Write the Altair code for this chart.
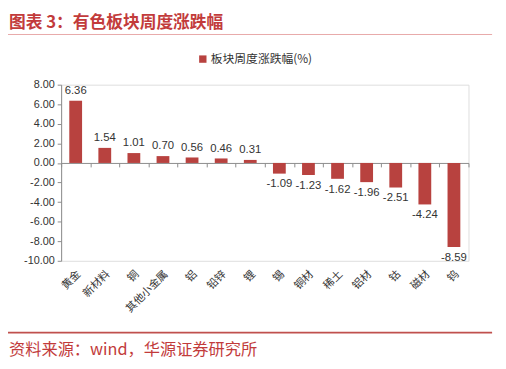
import altair as alt
import pandas as pd

categories = ["黄金", "新材料", "铜", "其他小金属", "铝", "铅锌", "锂", "锡", "铜材", "稀土", "铝材", "钴", "磁材", "钨"]
values = [6.36, 1.54, 1.01, 0.70, 0.56, 0.46, 0.31, -1.09, -1.23, -1.62, -1.96, -2.51, -4.24, -8.59]
y_ticks = [8, 6, 4, 2, 0, -2, -4, -6, -8, -10]
series_name = "板块周度涨跌幅(%)"
title_text = "图表 3：有色板块周度涨跌幅"
source_text = "资料来源：wind，华源证券研究所"

df = pd.DataFrame({"cat": categories, "val": values, "series": [series_name] * len(categories)})

W, H = 414, 179
YMIN, YMAX = -10, 8
zero_from_bottom = H * (0 - YMIN) / (YMAX - YMIN)

LATIN = "Liberation Sans, Arial, Noto Sans CJK SC"
CJK = "Noto Sans CJK SC"
BAR = "#b8423f"
RED = "#c23b3b"
FMT = "replace(format({v}, '.2f'), '\u2212', '-')"

x_enc = alt.X(
    "cat:N", sort=categories, title=None,
    scale=alt.Scale(paddingInner=0, paddingOuter=0),
    axis=alt.Axis(
        orient="bottom", offset=-zero_from_bottom, tickBand="extent",
        domainColor="#8c8c8c", tickColor="#8c8c8c", tickSize=4,
        labelAngle=-45, labelAlign="right", labelBaseline="middle",
        labelPadding=107, labelOffset=3, labelFont=CJK, labelFontSize=11, labelColor="#333333",
        labelOverlap=False, labelBound=False,
    ),
)
y_enc = alt.Y(
    "val:Q", title=None,
    scale=alt.Scale(domain=[YMIN, YMAX], nice=False, zero=False),
    axis=alt.Axis(
        values=y_ticks, grid=False, labelOverlap=False, labelBound=False,
        labelExpr=FMT.format(v="datum.value"),
        domainColor="#8c8c8c", tickColor="#8c8c8c", tickSize=4,
        labelFont=LATIN, labelFontSize=11, labelColor="#333333", labelPadding=3,
    ),
)

base = alt.Chart(df).transform_calculate(lbl=FMT.format(v="datum.val"))

bars = base.mark_bar(size=13).encode(
    x=x_enc, y=y_enc,
    color=alt.Color(
        "series:N", title=None,
        scale=alt.Scale(range=[BAR]),
        legend=alt.Legend(
            orient="none", legendX=138, legendY=-32, symbolType="square",
            symbolSize=56, symbolStrokeWidth=0, labelFont=CJK, labelFontSize=12,
            labelColor="#333333", padding=0, labelOffset=2, symbolOffset=0,
        ),
    ),
)

pos_labels = base.transform_filter("datum.val >= 0").mark_text(
    baseline="bottom", dy=-5, font=LATIN, fontSize=11.5, color="#333333"
).encode(x=x_enc, y=y_enc, text="lbl:N")

neg_labels = base.transform_filter("datum.val < 0").mark_text(
    baseline="top", dy=5, font=LATIN, fontSize=11.5, color="#333333"
).encode(x=x_enc, y=y_enc, text="lbl:N")

one = alt.Data(values=[{"a": 1}])

title = alt.Chart(one).mark_text(
    align="left", baseline="middle", font=CJK, fontSize=17, fontWeight="bold", color=RED
).encode(x=alt.value(-53), y=alt.value(20 - 83), text=alt.value(title_text))

top_line = alt.Chart(one).mark_rule(color="#e8a8a8", strokeWidth=1).encode(
    x=alt.value(-54), x2=alt.value(438), y=alt.value(32 - 83)
)
bottom_line = alt.Chart(one).mark_rule(color="#c0504d", strokeWidth=2).encode(
    x=alt.value(-54), x2=alt.value(438), y=alt.value(335 - 83)
)
source = alt.Chart(one).mark_text(
    align="left", baseline="middle", font=CJK, fontSize=16.5, color=RED
).encode(x=alt.value(-53), y=alt.value(353 - 83), text=alt.value(source_text))

chart = alt.layer(bars, pos_labels, neg_labels, title, top_line, bottom_line, source).properties(
    width=W, height=H,
    autosize=alt.AutoSizeParams(type="none"),
    padding={"left": 54, "top": 75, "right": 30, "bottom": 105},
).configure_view(stroke=None).configure(background="white")

chart.save("out.html", embed_options={"renderer": "svg", "actions": False})
